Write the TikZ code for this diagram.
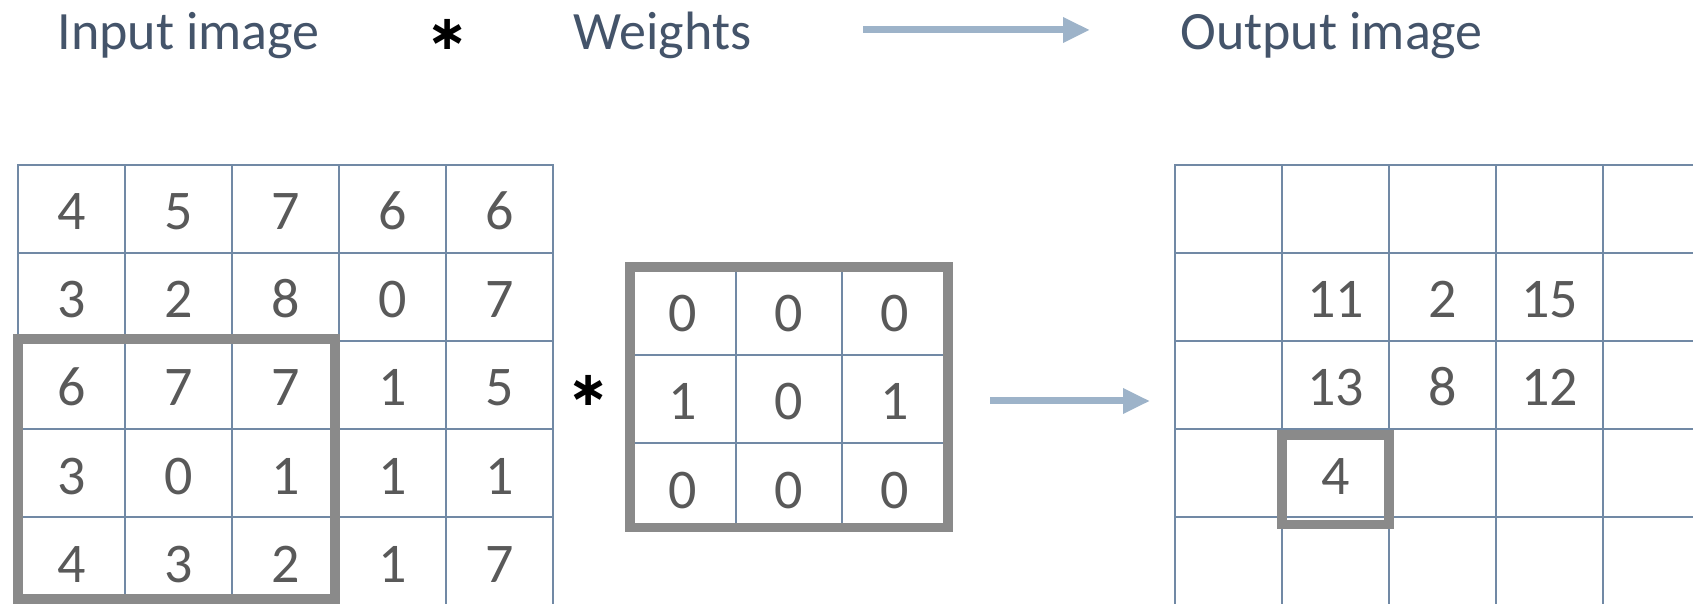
\documentclass[tikz,border=0pt]{standalone}
\usepackage{fontspec}
\setmainfont{Carlito}
\newfontfamily\symfont{DejaVu Sans}
\usetikzlibrary{arrows.meta}

\definecolor{titleblue}{HTML}{44546A}
\definecolor{numgray}{HTML}{595959}
\definecolor{linegray}{HTML}{7189A5}
\definecolor{boxgray}{HTML}{8A8A8A}
\definecolor{arrowblue}{HTML}{9DB3C9}

\tikzset{
  title/.style={anchor=base west,inner sep=0pt,text=titleblue,
    font=\fontsize{27}{32}\selectfont},
  convstar/.style={inner sep=0pt,font=\symfont\bfseries\fontsize{24}{24}\selectfont},
  cell/.style={draw=linegray,line width=0.75pt,inner sep=0pt,outer sep=0pt,
    minimum width=53.5pt,minimum height=44pt,text=numgray,
    text height=21pt,text depth=0pt,
    font=\fontsize{28}{28}\selectfont},
  window/.style={draw=boxgray,line width=4.9pt},
  fatarrow/.style={draw=arrowblue,line width=3.5pt,
    -{Triangle[length=13.5pt,width=12pt]}}
}

\begin{document}
\begin{tikzpicture}[x=0.5pt,y=-0.5pt]
\useasboundingbox (0,0) rectangle (1693,604);
\clip (0,0) rectangle (1693,604);

% header line
\node[title] (intitle) at (57,50) {Input image};
\node[convstar] (topstar) at (448,34) {∗};
\node[title] (wtitle) at (573,50) {Weights};
\node[title] (outtitle) at (1180,50) {Output image};
\coordinate (topfrom) at (863,30);
\coordinate (topto) at (1090,30);
\draw[fatarrow] (topfrom) -- (topto);

% input image, 5x5
\foreach \row [count=\r] in {{4,5,7,6,6},{3,2,8,0,7},{6,7,7,1,5},{3,0,1,1,1},{4,3,2,1,7}}
  \foreach \v [count=\c] in \row
    \node[cell] (in-\r-\c) at ({18+107*(\c-0.5)},{165+88*(\r-0.5)}) {\v};
\draw[window] ([yshift=1pt]in-3-1.north west) rectangle ([shift={(-2pt,3pt)}]in-5-3.south east);

\node[convstar] (midstar) at (589,390) {∗};

% weights, 3x3
\foreach \row [count=\r] in {{0,0,0},{1,0,1},{0,0,0}}
  \foreach \v [count=\c] in \row
    \node[cell,minimum width=53pt] (wt-\r-\c) at ({630+106*(\c-0.5)},{267+88*(\r-0.5)}) {\v};
\draw[window] (wt-1-1.north west) rectangle ([yshift=1.75pt]wt-3-3.south east);

\draw[fatarrow] ([shift={(21pt,-1pt)}]wt-2-3.east) -- ++(80pt,0);

% output image, 5x5
\foreach \r in {1,...,5}
  \foreach \c in {1,...,5}
    \node[cell] (out-\r-\c) at ({1175+107*(\c-0.5)},{165+88*(\r-0.5)}) {};
\node[cell,draw=none] at (out-2-2) {11};
\node[cell,draw=none] at (out-2-3) {2};
\node[cell,draw=none] at (out-2-4) {15};
\node[cell,draw=none] at (out-3-2) {13};
\node[cell,draw=none] at (out-3-3) {8};
\node[cell,draw=none] at (out-3-4) {12};
\node[cell,draw=none] at (out-4-2) {4};
\draw[window] ([yshift=-3pt]out-4-2.north west) rectangle ([yshift=-3.75pt]out-4-2.south east);
\end{tikzpicture}
\end{document}
